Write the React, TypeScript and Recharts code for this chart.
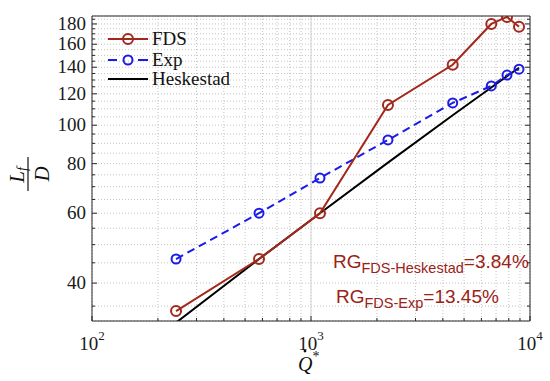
import React from 'react';
import {
  LineChart,
  Line,
  XAxis,
  YAxis,
  CartesianGrid,
  ReferenceLine,
  Customized,
} from 'recharts';

// Q* values shared by all series
const qStar = [242, 579, 1099, 2246, 4436, 6657, 7852, 8908];
const fdsValues = [34, 46, 60, 112.5, 142, 180, 187.5, 177];
const expValues = [46, 60, 73.6, 91.8, 113.8, 125.6, 133.8, 138.4];
const heskestadValues = [31.8, 46, 60, 80.5, 106, 124.5, 133, 139.5];

const xMajorTicks = [100, 1000, 10000];
const xMinorTicks = [200, 300, 400, 500, 600, 700, 800, 900, 2000, 3000, 4000, 5000, 6000, 7000, 8000, 9000];
const yMajorTicks = [40, 60, 80, 100, 120, 140, 160, 180];
const yMinorTicks = [
  35, 45, 50, 55, 65, 70, 75, 85, 90, 95, 105, 110, 115, 125, 130, 135, 145, 150, 155, 165, 170, 175, 185,
];

const xTicks = [...xMajorTicks, ...xMinorTicks].sort((a, b) => a - b);
const yTicks = [...yMajorTicks, ...yMinorTicks].sort((a, b) => a - b);

const rows = qStar.map((q, i) => ({
  q,
  fds: fdsValues[i],
  exp: expValues[i],
  hesk: heskestadValues[i],
}));

const fdsColor = '#a3281c';
const expColor = '#1c1ce6';
const rgColor = '#9a2216';
const axisColor = '#262626';
const serif = '"Liberation Serif", "Times New Roman", serif';
const sans = '"Liberation Sans", Arial, sans-serif';

const BottomTick = (props: any) => {
  const { x, y, payload } = props;
  const v = payload.value;
  const major = xMajorTicks.includes(v);
  return (
    <g>
      <line x1={x} y1={y} x2={x} y2={y - (major ? 5 : 3)} stroke={axisColor} />
      {major && (
        <text x={x} y={y + 29} textAnchor="middle" style={{ fontFamily: serif }} fontSize={19} fill="#1a1a1a">
          10
          <tspan dy={-10} fontSize={13}>
            {Math.round(Math.log10(v))}
          </tspan>
        </text>
      )}
    </g>
  );
};

const TopTick = (props: any) => {
  const { x, y, payload } = props;
  const major = xMajorTicks.includes(payload.value);
  return <line x1={x} y1={y} x2={x} y2={y + (major ? 5 : 3)} stroke={axisColor} />;
};

const LeftTick = (props: any) => {
  const { x, y, payload } = props;
  const v = payload.value;
  const major = yMajorTicks.includes(v);
  return (
    <g>
      <line x1={x} y1={y} x2={x + (major ? 5 : 3)} y2={y} stroke={axisColor} />
      {major && (
        <text x={x - 6} y={y + 6} textAnchor="end" style={{ fontFamily: serif }} fontSize={19} fill="#1a1a1a">
          {v}
        </text>
      )}
    </g>
  );
};

const RightTick = (props: any) => {
  const { x, y, payload } = props;
  const major = yMajorTicks.includes(payload.value);
  return <line x1={x} y1={y} x2={x - (major ? 5 : 3)} y2={y} stroke={axisColor} />;
};

// legend drawn in chart pixels, top-left corner
const LegendBox = () => (
  <g transform="translate(100,25)" style={{ fontFamily: serif }}>
    <line x1={8} x2={48} y1={14} y2={14} stroke={fdsColor} strokeWidth={2} />
    <circle cx={28} cy={14} r={5} fill="none" stroke={fdsColor} strokeWidth={2} />
    <text x={52} y={20} fontSize={19} fill="#111">FDS</text>
    <line x1={8} x2={17} y1={35} y2={35} stroke={expColor} strokeWidth={2} />
    <line x1={38} x2={48} y1={35} y2={35} stroke={expColor} strokeWidth={2} />
    <circle cx={28} cy={35} r={4.5} fill="none" stroke={expColor} strokeWidth={2} />
    <text x={52} y={41} fontSize={19} fill="#111">Exp</text>
    <line x1={8} x2={48} y1={54} y2={54} stroke="#000" strokeWidth={2} />
    <text x={52} y={60} fontSize={19} fill="#111">Heskestad</text>
  </g>
);

const Annotations = () => (
  <g>
    <LegendBox />
    <text x={333} y={268} fill={rgColor} style={{ fontFamily: sans }} fontSize={19}>
      RG
      <tspan fontSize={14.5} dy={5}>FDS-Heskestad</tspan>
      <tspan fontSize={19} dy={-5}>=3.84%</tspan>
    </text>
    <text x={336} y={303} fill={rgColor} style={{ fontFamily: sans }} fontSize={19}>
      RG
      <tspan fontSize={14.5} dy={5}>FDS-Exp</tspan>
      <tspan fontSize={19} dy={-5}>=13.45%</tspan>
    </text>
    <g transform="translate(29,174) rotate(-90)" style={{ fontFamily: serif }}>
      <text x={-1} y={-5} textAnchor="middle" fontStyle="italic" fontSize={21} fill="#111">
        L
        <tspan fontSize={14} dy={3}>f</tspan>
      </text>
      <line x1={-17} x2={17} y1={-1} y2={-1} stroke="#111" strokeWidth={1.2} />
      <text x={0} y={20} textAnchor="middle" fontStyle="italic" fontSize={21} fill="#111">
        D
      </text>
    </g>
    <text x={298} y={371} style={{ fontFamily: serif }} fontStyle="italic" fontSize={20} fill="#111">
      Q
      <tspan fontSize={14} dy={-10} fontStyle="normal">*</tspan>
    </text>
    <circle cx={305} cy={351} r={1.4} fill="#111" />
  </g>
);

export default function App() {
  return (
    <div style={{ position: 'absolute', left: 0, top: 0, background: '#fff' }}>
      <LineChart width={550} height={381} data={rows} margin={{ top: 0, right: 0, bottom: 0, left: 0 }}>
        <CartesianGrid stroke="#c4c4c4" strokeDasharray="1 2" />
        <ReferenceLine x={1000} stroke="#d6d6d6" strokeWidth={1} />
        <XAxis
          dataKey="q"
          type="number"
          scale="log"
          domain={[100, 10000]}
          ticks={xTicks}
          interval={0}
          height={60}
          tickSize={0}
          tickMargin={0}
          tickLine={false}
          axisLine={{ stroke: axisColor }}
          tick={<BottomTick />}
          allowDataOverflow
        />
        <XAxis
          xAxisId="top"
          orientation="top"
          type="number"
          scale="log"
          domain={[100, 10000]}
          ticks={xTicks}
          interval={0}
          height={16}
          tickSize={0}
          tickMargin={0}
          tickLine={false}
          axisLine={{ stroke: axisColor }}
          tick={<TopTick />}
          allowDataOverflow
        />
        <YAxis
          type="number"
          scale="log"
          domain={[32.1, 188.5]}
          ticks={yTicks}
          interval={0}
          width={92}
          tickSize={0}
          tickMargin={0}
          tickLine={false}
          axisLine={{ stroke: axisColor }}
          tick={<LeftTick />}
          allowDataOverflow
        />
        <YAxis
          yAxisId="right"
          orientation="right"
          type="number"
          scale="log"
          domain={[32.1, 188.5]}
          ticks={yTicks}
          interval={0}
          width={20}
          tickSize={0}
          tickMargin={0}
          tickLine={false}
          axisLine={{ stroke: axisColor }}
          tick={<RightTick />}
          allowDataOverflow
        />
        <Line dataKey="hesk" stroke="#000" strokeWidth={2} dot={false} isAnimationActive={false} />
        <Line
          dataKey="exp"
          stroke={expColor}
          strokeWidth={2}
          strokeDasharray="8 5"
          dot={{ r: 4.5, fill: 'none', stroke: expColor, strokeWidth: 2, strokeDasharray: '' }}
          isAnimationActive={false}
        />
        <Line
          dataKey="fds"
          stroke={fdsColor}
          strokeWidth={2}
          dot={{ r: 5, fill: 'none', stroke: fdsColor, strokeWidth: 2 }}
          isAnimationActive={false}
        />
        <Customized component={<Annotations />} />
      </LineChart>
    </div>
  );
}
